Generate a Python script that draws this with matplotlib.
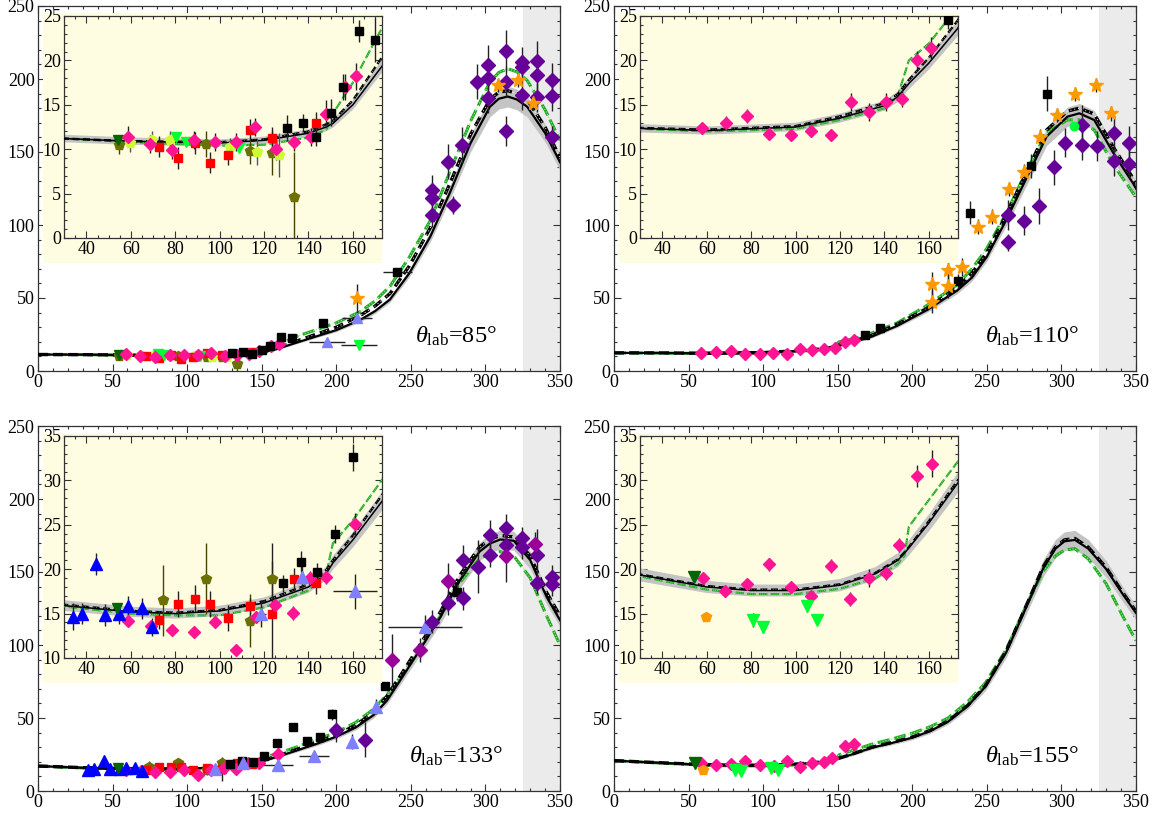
import numpy as np
import matplotlib
matplotlib.use("Agg")
import matplotlib.pyplot as plt
from matplotlib.ticker import MultipleLocator

plt.rcParams['font.family'] = ['Liberation Serif', 'DejaVu Serif']
plt.rcParams['mathtext.fontset'] = 'custom'
plt.rcParams['mathtext.rm'] = 'Liberation Serif'
plt.rcParams['mathtext.it'] = 'Liberation Serif:italic'

# ---------------- theory curves ----------------
x1 = [0, 30, 60, 100, 120, 140, 148, 151, 160, 173, 186, 200, 216, 226, 236, 249, 263, 276, 290, 303, 309, 315, 321, 328, 340, 350]
solid1 = [11.3, 11.2, 10.9, 10.7, 11.0, 11.8, 12.5, 12.9, 15.0, 19.3, 23.5, 28, 35, 41, 49, 67, 92, 121.7, 156, 181, 186.5, 188, 186, 181, 163, 143]
dash1 = [11.3, 11.2, 10.9, 10.8, 11.1, 12.0, 12.8, 13.2, 15.5, 20.3, 25, 30, 38, 44.5, 53, 72, 98, 128, 162, 186, 191, 192, 190, 186, 167, 146]
green1 = [11.3, 11.2, 10.8, 10.4, 10.5, 11.3, 12.2, 14.0, 17.5, 23.6, 28, 33, 40.6, 48, 58, 78, 103, 136, 171, 198, 204.5, 207, 205, 199, 179, 158]

x2 = [0, 30, 60, 100, 120, 140, 146, 151, 160, 173, 190, 210, 230, 240, 250, 263, 277, 290, 304, 312, 322, 335, 348, 350]
solid2 = [12.4, 12.35, 12.1, 12.5, 13.5, 14.9, 15.9, 17.4, 19.7, 23.6, 31, 41.8, 55, 64, 78.3, 103.4, 133, 160.5, 174.2, 176.5, 171.9, 149, 128.6, 125]
dash2 = [12.4, 12.4, 12.2, 12.6, 13.7, 15.2, 16.2, 17.8, 20.3, 24.5, 32, 43, 57, 67, 81, 107, 137, 165, 178, 180, 176, 153, 132, 128]
green2 = [12.4, 12.3, 12.0, 12.3, 13.3, 14.6, 16.0, 20.0, 21.9, 26.0, 33, 45, 59, 70, 84, 108, 138, 163, 172, 172, 165, 141, 122, 119]

x3 = [0, 30, 60, 80, 100, 120, 140, 148, 151, 160, 173, 186, 200, 213, 225, 234, 243, 256, 270, 283, 296, 303, 310, 319, 330, 341, 350]
solid3 = [17.1, 15.9, 15.2, 15.0, 15.3, 16.2, 18.0, 19.5, 20.7, 23.3, 27.6, 32, 37.2, 43.5, 52, 62, 76, 96.6, 119.4, 144.5, 163.9, 169.5, 172.3, 171.4, 158.2, 133, 117]
dash3 = [17.1, 16.0, 15.3, 15.1, 15.4, 16.4, 18.3, 19.9, 21.0, 23.8, 28.3, 33, 38.5, 45, 54, 65, 79, 100, 123, 148, 167, 172.5, 175, 174, 161, 136, 120]
green3 = [17.1, 15.8, 15.0, 14.8, 14.8, 15.7, 17.6, 19.5, 22.9, 25.5, 30.0, 35, 40, 47, 56, 66, 78, 98, 120, 143, 159, 162.5, 164, 161, 146, 120, 100]

x4 = [0, 30, 60, 80, 100, 120, 136, 146, 149, 151, 160, 173, 186, 200, 212, 224, 237, 249, 263, 276, 288, 296, 302, 309, 318, 330, 341, 350]
solid4 = [20.8, 19.35, 18.0, 17.6, 17.6, 18.2, 19.5, 21.0, 21.8, 22.4, 25.2, 29.7, 32.8, 36.5, 41, 47.5, 58, 71.4, 95, 125, 153, 166, 171, 172, 166, 152, 135, 122]
dash4 = [20.8, 19.4, 18.1, 17.7, 17.7, 18.3, 19.6, 21.1, 21.9, 22.5, 25.4, 30.0, 33.2, 37, 41.5, 48, 58.5, 72, 96, 126, 154, 167, 172, 173, 167, 153, 136, 123]
green4 = [20.8, 19.2, 17.7, 17.2, 17.2, 17.8, 19.0, 20.6, 21.5, 24.8, 27.8, 32.1, 35.5, 39.6, 44, 50, 61, 74, 97, 126, 151, 161, 165, 166, 159, 142, 120, 103]

# ---------------- data, panel 1 (85 deg) ----------------
p1_pink_x = [58.75, 68.5, 78.5, 88.4, 97.7, 107.2, 116, 125.2, 133.4, 141.2, 148, 156.5, 161.5]
p1_pink_y = [11.4, 10.6, 9.9, 11.0, 10.85, 10.85, 12.5, 10.0, 10.85, 11.4, 14.0, 17.0, 18.2]
p1_pink_e = [1.2, 1, 1, 1, 1, 1, 1, 1.2, 1, 1, 1.5, 1.5, 1.5]
p1_black_x = [130.3, 137.5, 143.2, 150.2, 155.5, 162.7, 170, 191.4, 241]
p1_black_y = [12.4, 13.0, 11.4, 14.1, 17.0, 23.3, 22.3, 32.7, 68]
p1_black_e = [1.5, 1, 1, 1.5, 1.5, 1.2, 2.5, 2, 2]
p1_black_xe = [0, 0, 0, 0, 0, 0, 0, 0, 10]
p1_red_x = [72.7, 81.2, 89, 95.6, 103.7, 113.5, 123.7, 143.2]
p1_red_y = [10.3, 9.0, 10.7, 8.5, 9.4, 12.2, 11.3, 13.0]
p1_red_e = [1.2, 1.2, 1.2, 1.2, 1.2, 1.2, 1.2, 1.2]
p1_olive_x = [54.6, 94, 113.5, 123.7, 133.3]
p1_olive_y = [10.5, 10.6, 9.8, 9.6, 4.65]
p1_olive_e = [1, 1.5, 1.5, 2.5, 5]
p1_yg_x = [59.8, 69.3, 77.5, 104.5, 117, 126.7]
p1_yg_y = [10.7, 11.0, 11.0, 10.3, 9.7, 9.35]
p1_yg_e = [1, 1, 1, 1, 1.5, 2.5]
p1_lime_x = [80.2, 84.7, 108.7, 215]
p1_lime_y = [11.4, 10.85, 10.1, 17.8]
p1_lime_xe = [0, 0, 0, 12]
p1_dkg_x = [54.2]
p1_dkg_y = [11.0]
p1_purple_x = [264, 264, 264, 275.1, 278, 284, 294.2, 302, 302, 302, 313.6, 313.6, 313.6,
               324.3, 324.3, 324.3, 334.8, 334.8, 334.8, 344.4, 344.4, 344.4]
p1_purple_y = [124, 118.3, 106.8, 143.4, 113.7, 154.8, 198.2, 209.6, 201, 186.8, 219.4, 198, 164.4,
               211.9, 208.5, 189, 212.3, 202.7, 187.4, 199.3, 188.4, 160]
p1_purple_e = [10, 8, 8, 12, 6, 12, 12, 14, 10, 10, 14, 10, 10, 10, 8, 10, 14, 10, 10, 12, 10, 8]
p1_orange_x = [213.8, 308.7, 322, 332]
p1_orange_y = [49.8, 195.9, 199.3, 183.8]
p1_orange_e = [10, 5, 5, 5]
p1_lb_x = [193.9, 213.8]
p1_lb_y = [20.1, 36.1]
p1_lb_xe = [12, 10]

# ---------------- data, panel 2 (110 deg) ----------------
p2_pink_x = [58, 68.5, 78.2, 88, 97.7, 106.75, 116, 124.75, 133, 140.5, 148, 154.75, 160.75]
p2_pink_y = [12.4, 13.0, 13.7, 11.7, 11.6, 12.1, 11.6, 15.35, 14.2, 15.35, 15.7, 20.05, 21.4]
p2_pink_e = [0.6, 0.7, 0.8, 0.6, 0.6, 0.6, 0.6, 1, 1, 1, 1, 1, 1.2]
p2_black_x = [168.5, 178.2, 230.9, 238.7, 279.5, 290.2]
p2_black_y = [24.5, 29.2, 61.6, 108.4, 140.4, 190]
p2_black_e = [1, 1, 5, 8, 8, 12]
p2_orange_x = [213, 213, 224.2, 224.2, 233.6, 244.3, 253.7, 264.7, 275, 285.7, 297.2, 309, 323.2, 333.5]
p2_orange_y = [59.6, 47.5, 69.2, 58.2, 71.2, 98.8, 105.7, 124.6, 136.5, 160.5, 175.3, 189.7, 195.9, 176.5]
p2_orange_e = [8, 8, 8, 8, 6, 5, 5, 5, 5, 5, 5, 5, 5, 5]
p2_purple_x = [264.5, 264.5, 275, 285, 294.7, 302.5, 313.6, 313.6, 323.7, 335, 335, 345, 345]
p2_purple_y = [106.8, 88.1, 103, 113, 139.5, 156.4, 168.5, 154.8, 154.1, 163.2, 143.8, 156, 142]
p2_purple_e = [10, 6, 10, 12, 12, 10, 14, 10, 10, 12, 10, 12, 10]
p2_lime_x = [308.2]
p2_lime_y = [168]

# ---------------- data, panel 3 (133 deg) ----------------
p3_blue_x = [33.7, 37.75, 44.2, 48.25, 54.7, 58.75, 65.2, 69.7]
p3_blue_y = [14.65, 15.0, 20.6, 14.85, 15.0, 15.8, 15.6, 13.5]
p3_blue_e = [1.5, 1.2, 1.2, 1.2, 1.2, 1.2, 1.2, 1.0]
p3_lb_x = [118.75, 137.2, 161, 185, 210.8, 226.3, 259.5]
p3_lb_y = [15.0, 19.1, 17.5, 24, 33.8, 57.7, 112.5]
p3_lb_e = [1.5, 1.5, 2, 2, 5, 5, 8]
p3_lb_xe = [2, 3, 10, 10, 0, 0, 25]
p3_pink_x = [58.75, 69, 78.5, 88.4, 98, 107.2, 116.2, 124.75, 133, 140.5, 148, 160.75]
p3_pink_y = [14.2, 13.6, 13.1, 12.9, 14.1, 10.9, 14.6, 16.0, 15.1, 19.0, 19.1, 25.1]
p3_pink_e = [0.6, 0.6, 0.5, 0.5, 0.6, 0.5, 0.6, 0.8, 0.8, 0.8, 0.8, 1.2]
p3_red_x = [72.7, 81.2, 89, 95.6, 103.7, 113.5, 123.7, 133.3, 143.2]
p3_red_y = [14.3, 16.1, 16.7, 16.1, 14.5, 15.8, 15.0, 18.9, 18.4]
p3_red_e = [1, 1.5, 1.5, 1.5, 1.5, 1, 8, 1.2, 1.2]
p3_black_x = [128.5, 136.5, 144, 151.75, 160, 171, 180.2, 188.9, 197.1, 232.5, 280.7]
p3_black_y = [18.4, 20.85, 19.7, 24.0, 32.6, 44, 34.5, 36.8, 52.5, 72, 136]
p3_black_e = [1, 1.2, 1, 1, 1.5, 2, 2, 2, 4, 3, 6]
p3_olive_x = [74.5, 94, 113.5, 123.7]
p3_olive_y = [16.5, 18.9, 14.2, 18.9]
p3_olive_e = [4, 4, 3, 2]
p3_dkg_x = [53.9]
p3_dkg_y = [15.6]
p3_purple_x = [264, 275.1, 285.2, 285.2, 295.2, 303.1, 303.1, 313.6, 313.6, 324.3, 324.3, 334.8, 334.8, 344.4, 344.4, 200, 219.5]
p3_purple_y = [116, 128.8, 158.2, 132, 153.6, 175.3, 161.6, 179.9, 168.5, 173, 167, 161.6, 142.7, 146.8, 141.8, 41.8, 35]
p3_purple_e = [8, 8, 10, 8, 18, 10, 8, 10, 8, 8, 8, 18, 8, 8, 8, 8, 12]
p3_mag_x = [237.2, 256.1, 275.1, 333.2, 313.6]
p3_mag_y = [89.7, 96.6, 144, 169.2, 161]
p3_mag_e = [18, 8, 12, 8, 18]

# ---------------- data, panel 4 (155 deg) ----------------
p4_pink_x = [58.4, 68.2, 78.25, 88, 97.75, 107, 116, 124.45, 133, 140.5, 146.5, 154.75, 161.2]
p4_pink_y = [19.0, 17.5, 18.3, 20.55, 18.0, 17.0, 20.4, 16.6, 19.0, 19.55, 22.7, 30.5, 31.9]
p4_pink_e = [0.6, 0.6, 0.5, 0.7, 0.6, 0.6, 0.8, 0.8, 1.0, 0.8, 0.8, 1.2, 1.5]
p4_lime_x = [81, 85.45, 105.25, 109.75]
p4_lime_y = [14.3, 13.5, 15.85, 14.3]
p4_lime_e = [0.8, 0.7, 0.7, 0.5]
p4_dkg_x = [54.25]
p4_dkg_y = [19.15]
p4_orange_x = [59.5]
p4_orange_y = [14.65]

labels = ['85', '110', '133', '155']
inset_ylim = [(0, 25), (0, 25), (10, 35), (10, 35)]

# ---------------- colours / markers ----------------
PINK = '#FF1493'
PURPLE = '#660099'
MAGP = '#990099'
ORANGE = '#FF9900'
RED = '#FF0000'
OLIVE = '#6B7000'
YG = '#CCFF33'
LIME = '#00FF33'
DKG = '#006600'
BLUE = '#0000FF'
LB = '#8080FF'
YELLOW = '#FFFDE1'

W, H = 1154, 821
fig = plt.figure(figsize=(W / 100, H / 100), dpi=100)


def fpos(l, t, w, h):
    return [l / W, 1 - (t + h) / H, w / W, h / H]


def style_axes(ax, xmaj, xmin, ymaj, ymin):
    ax.xaxis.set_major_locator(MultipleLocator(xmaj))
    ax.xaxis.set_minor_locator(MultipleLocator(xmin))
    ax.yaxis.set_major_locator(MultipleLocator(ymaj))
    ax.yaxis.set_minor_locator(MultipleLocator(ymin))
    ax.tick_params(which='both', direction='in', top=True, right=True, labelsize=13, width=0.8,
                   colors='#333333', labelcolor='black', pad=2.5)
    ax.tick_params(which='major', length=5)
    ax.tick_params(which='minor', length=2.5)
    for s in ax.spines.values():
        s.set_linewidth(0.9)
        s.set_color('#333333')


def draw_curves(ax, x, s, d, g, inset):
    x = np.asarray(x, float)
    s = np.asarray(s, float)
    k = 1.0 if not inset else 0.7
    ax.fill_between(x, s * 0.962, s * 1.038, color='#C4C4C4', lw=0, zorder=2)
    ax.plot(x, g, color='#22AA22', lw=2.2 * k, ls=(0, (4, 1.5)), zorder=3)
    ax.plot(x, g, color='#9BE89B', lw=0.8 * k, ls=':', zorder=3.1)
    ax.plot(x, d, color='black', lw=2.4 * k, ls=(0, (3, 1.5)), zorder=3.2)
    ax.plot(x, d, color='white', lw=0.7 * k, ls=(0, (1, 3)), zorder=3.3)
    ax.plot(x, s, color='black', lw=1.6 * k, zorder=3.4)


def pts(ax, x, y, m, c, ms, yerr=None, xerr=None, ec='#222222'):
    ax.errorbar(x, y, yerr=yerr, xerr=xerr, fmt=m, color=c, mec=c, ms=ms, ecolor=ec,
                elinewidth=1.0, capsize=0, zorder=5)


def data_panel(ax, i):
    if i == 0:
        pts(ax, p1_olive_x, p1_olive_y, 'p', OLIVE, 7, p1_olive_e, ec='#444400')
        pts(ax, p1_yg_x, p1_yg_y, 'p', YG, 7, p1_yg_e, ec='#555555')
        pts(ax, p1_red_x, p1_red_y, 's', RED, 6, p1_red_e)
        pts(ax, p1_lime_x, p1_lime_y, 'v', LIME, 7.5, None, p1_lime_xe)
        pts(ax, p1_dkg_x, p1_dkg_y, 'v', DKG, 7.5)
        pts(ax, p1_pink_x, p1_pink_y, 'D', PINK, 6.5, p1_pink_e)
        pts(ax, p1_black_x, p1_black_y, 's', 'black', 6, p1_black_e, p1_black_xe)
        pts(ax, p1_purple_x, p1_purple_y, 'D', PURPLE, 7, p1_purple_e)
        pts(ax, p1_orange_x, p1_orange_y, '*', ORANGE, 10, p1_orange_e)
        pts(ax, p1_lb_x, p1_lb_y, '^', LB, 7.5, None, p1_lb_xe)
    elif i == 1:
        pts(ax, p2_pink_x, p2_pink_y, 'D', PINK, 6.5, p2_pink_e)
        pts(ax, p2_purple_x, p2_purple_y, 'D', PURPLE, 7, p2_purple_e)
        pts(ax, p2_black_x, p2_black_y, 's', 'black', 6, p2_black_e)
        pts(ax, p2_orange_x, p2_orange_y, '*', ORANGE, 10, p2_orange_e)
        pts(ax, p2_lime_x, p2_lime_y, 'o', LIME, 6)
    elif i == 2:
        pts(ax, p3_olive_x, p3_olive_y, 'p', OLIVE, 7, p3_olive_e, ec='#444400')
        pts(ax, p3_red_x, p3_red_y, 's', RED, 6, p3_red_e)
        pts(ax, p3_pink_x, p3_pink_y, 'D', PINK, 6.5, p3_pink_e)
        pts(ax, p3_blue_x, p3_blue_y, '^', BLUE, 8, p3_blue_e)
        pts(ax, p3_dkg_x, p3_dkg_y, 'v', DKG, 7.5)
        pts(ax, p3_black_x, p3_black_y, 's', 'black', 6, p3_black_e)
        pts(ax, p3_lb_x, p3_lb_y, '^', LB, 8, p3_lb_e, p3_lb_xe)
        pts(ax, p3_purple_x, p3_purple_y, 'D', PURPLE, 7, p3_purple_e)
        pts(ax, p3_mag_x, p3_mag_y, 'D', MAGP, 7, p3_mag_e)
    else:
        pts(ax, p4_pink_x, p4_pink_y, 'D', PINK, 6.5, p4_pink_e)
        pts(ax, p4_lime_x, p4_lime_y, 'v', LIME, 8, p4_lime_e)
        pts(ax, p4_dkg_x, p4_dkg_y, 'v', DKG, 8)
        pts(ax, p4_orange_x, p4_orange_y, 'p', ORANGE, 7)


curves = [(x1, solid1, dash1, green1), (x2, solid2, dash2, green2),
          (x3, solid3, dash3, green3), (x4, solid4, dash4, green4)]
origins = [(38, 6), (614, 6), (38, 426), (614, 426)]

for i, (L, T) in enumerate(origins):
    ax = fig.add_axes(fpos(L, T, 522, 365))
    ax.set_xlim(0, 350)
    ax.set_ylim(0, 250)
    ax.axvspan(325, 350, color='#EBEBEB', lw=0, zorder=0)
    style_axes(ax, 50, 10, 50, 10)
    xc, s, d, g = curves[i]
    draw_curves(ax, xc, s, d, g, False)
    data_panel(ax, i)
    ax.text(280, 24, r'$\theta_{\rm lab}$=' + labels[i] + '°', fontsize=17.5, ha='center', va='center', zorder=6)

    bg = fig.add_axes(fpos(L + 5, T + 7.3, 339, 250))
    bg.set_facecolor(YELLOW)
    bg.set_xticks([])
    bg.set_yticks([])
    for sp in bg.spines.values():
        sp.set_visible(False)

    ins = fig.add_axes(fpos(L + 26.3, T + 10, 317.4, 222))
    ins.set_facecolor(YELLOW)
    ins.set_xlim(30, 173)
    ins.set_ylim(*inset_ylim[i])
    style_axes(ins, 20, 5, 5, 1)
    draw_curves(ins, xc, s, d, g, True)
    data_panel(ins, i)

fig.savefig('out.png', dpi=100)
